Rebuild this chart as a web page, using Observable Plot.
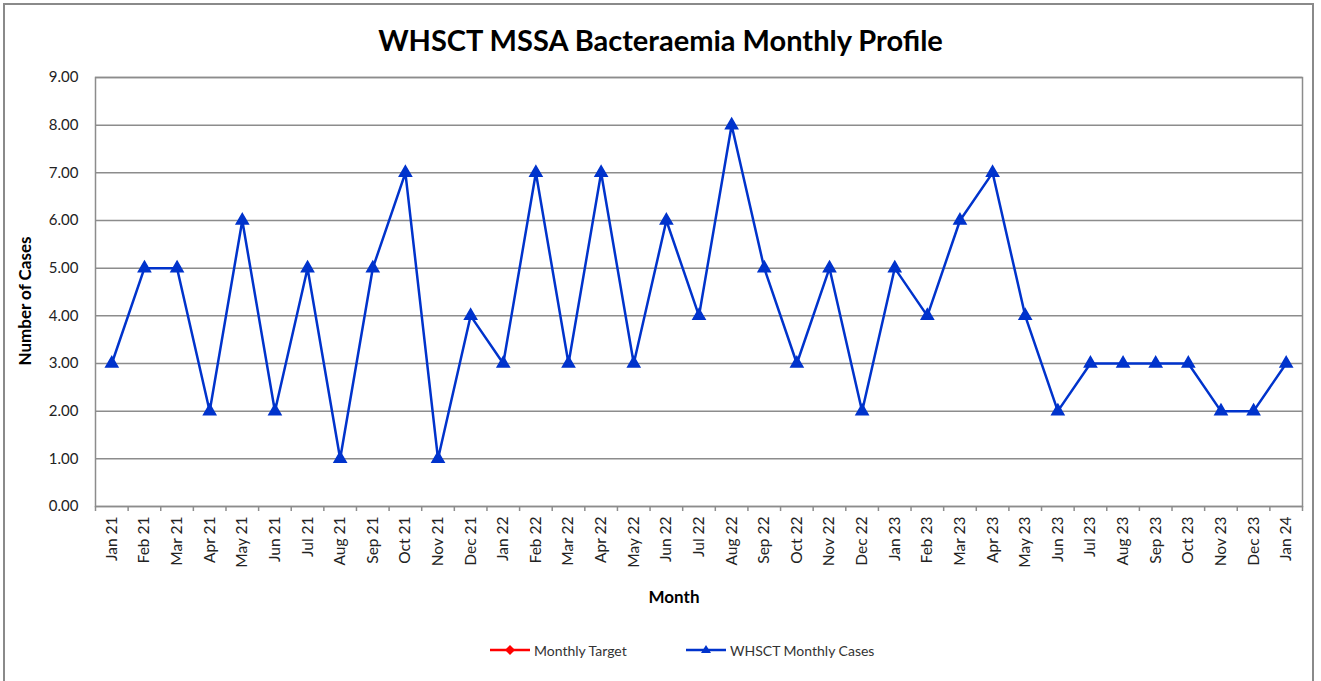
<!DOCTYPE html>
<html>
<head>
<meta charset="utf-8">
<script src="https://cdn.jsdelivr.net/npm/d3@7"></script>
<script src="https://cdn.jsdelivr.net/npm/@observablehq/plot@0.6"></script>
<style>
  html, body { margin: 0; padding: 0; background: #fff; }
  #wrap { position: relative; width: 1321px; height: 681px; overflow: hidden; font-family: Lato, "Open Sans", sans-serif; }
  #border { position: absolute; left: 3px; top: 3px; width: 1311px; height: 700px; border: 2px solid #8a8a8a; box-sizing: border-box; }
  #title { position: absolute; left: 0; top: 21px; width: 1321px; text-align: center; font-size: 29px; font-weight: bold; color: #000; line-height: 38px; }
  #chart { position: absolute; left: 0; top: 62px; }
  #legend { position: absolute; top: 638px; left: 0; width: 1321px; height: 24px; font-size: 14px; color: #333; }
  .item { position: absolute; top: 0; height: 24px; display: flex; align-items: center; }
  .item svg { margin-right: 4px; }
</style>
</head>
<body>
<div id="wrap">
  <div id="border"></div>
  <div id="title">WHSCT MSSA Bacteraemia Monthly Profile</div>
  <div id="chart"></div>
  <div id="legend"></div>
</div>
<script>
const months = ["Jan 21","Feb 21","Mar 21","Apr 21","May 21","Jun 21","Jul 21","Aug 21","Sep 21","Oct 21","Nov 21","Dec 21",
  "Jan 22","Feb 22","Mar 22","Apr 22","May 22","Jun 22","Jul 22","Aug 22","Sep 22","Oct 22","Nov 22","Dec 22",
  "Jan 23","Feb 23","Mar 23","Apr 23","May 23","Jun 23","Jul 23","Aug 23","Sep 23","Oct 23","Nov 23","Dec 23",
  "Jan 24"];
const cases = [3,5,5,2,6,2,5,1,5,7,1,4,
  3,7,3,7,3,6,4,8,5,3,5,2,
  5,4,6,7,4,2,3,3,3,3,2,2,
  3];
const yTicks = [0,1,2,3,4,5,6,7,8,9];
const seriesNames = ["Monthly Target", "WHSCT Monthly Cases"];
const seriesColors = ["#ff0000", "#0033cc"];

const data = months.map((m, i) => ({i, month: m, cases: cases[i]}));
const idx = data.map(d => d.i);
const bounds = months.map((m, i) => i - 0.5).concat([months.length - 0.5]);

const blue = seriesColors[1];
const chart = Plot.plot({
  width: 1321,
  height: 575,
  marginLeft: 95,
  marginRight: 19,
  marginTop: 15,
  marginBottom: 131,
  style: {fontFamily: "Lato, 'Open Sans', sans-serif", fontSize: "15px", color: "#222", background: "transparent"},
  x: {type: "linear", domain: [-0.5, months.length - 0.5]},
  y: {domain: [0, 9]},
  marks: [
    Plot.ruleY(yTicks, {stroke: "#8c8c8c", strokeWidth: 1.5}),
    Plot.frame({stroke: "#8c8c8c", strokeWidth: 1.5}),
    Plot.axisY({ticks: yTicks, tickSize: 0, tickPadding: 17, tickFormat: d => d.toFixed(2), label: null, fontSize: 15}),
    Plot.axisX({ticks: bounds, tickSize: 5, tickFormat: () => "", label: null, stroke: "#8c8c8c", strokeWidth: 1.5}),
    Plot.axisX({ticks: idx, tickSize: 0, tickPadding: 10, tickRotate: -90, tickFormat: i => months[i], label: null, fontSize: 15.5}),
    Plot.line(data, {x: "i", y: "cases", stroke: blue, strokeWidth: 2.5}),
    Plot.dot(data, {x: "i", y: "cases", symbol: "triangle", r: 4.5, fill: blue, stroke: blue}),
    Plot.text(["Number of Cases"], {text: d => d, frameAnchor: "left", textAnchor: "middle", dx: -70, dy: 9, rotate: -90, fontWeight: "bold", fontSize: 17, fill: "#000"}),
    Plot.text(["Month"], {text: d => d, frameAnchor: "bottom", dx: -25, dy: 96, fontWeight: "bold", fontSize: 17, fill: "#000"})
  ]
});
document.getElementById("chart").appendChild(chart);

// legend
const legend = document.getElementById("legend");
const lefts = [490, 686];
seriesNames.forEach((name, k) => {
  const item = document.createElement("div");
  item.className = "item";
  item.style.left = lefts[k] + "px";
  const c = seriesColors[k];
  const shape = k === 0
    ? `<path d="M20,7 L25,12 L20,17 L15,12 Z" fill="${c}"/>`
    : `<path d="M20,7 L25,15 L15,15 Z" fill="${c}"/>`;
  item.innerHTML = `<svg width="40" height="24"><line x1="0" x2="40" y1="12" y2="12" stroke="${c}" stroke-width="2.5"/>${shape}</svg><span>${name}</span>`;
  legend.appendChild(item);
});
</script>
</body>
</html>
